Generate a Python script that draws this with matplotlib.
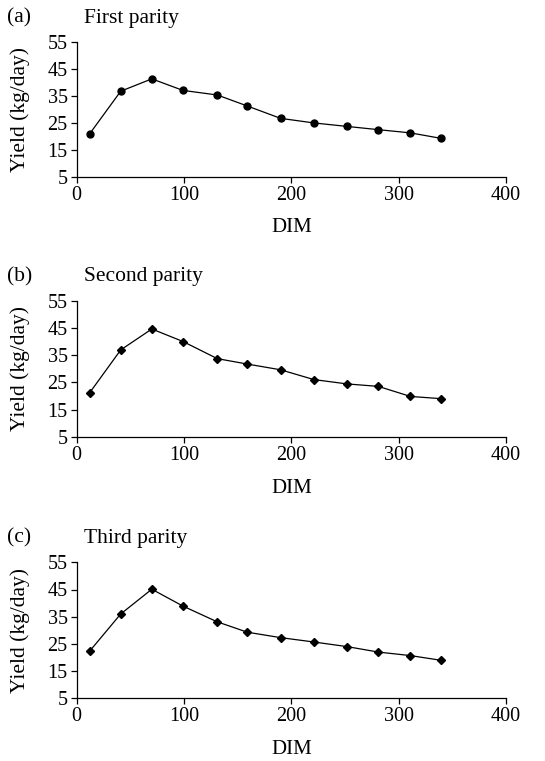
import matplotlib
matplotlib.use("Agg")
import matplotlib.pyplot as plt

plt.rcParams['font.family'] = ['Liberation Serif', 'DejaVu Serif']

dim = [12, 41, 70, 99, 131, 159, 190, 221, 252, 281, 311, 339]
yield_first = [20.9, 36.8, 41.4, 37.1, 35.4, 31.3, 26.7, 25.0, 23.7, 22.5, 21.3, 19.3]
yield_second = [21.1, 36.9, 44.6, 40.0, 33.7, 31.7, 29.6, 26.0, 24.4, 23.5, 19.8, 19.0]
yield_third = [22.3, 36.0, 45.1, 38.9, 33.1, 29.3, 27.3, 25.7, 24.0, 22.0, 20.7, 19.0]

panels = [("(a)", "First parity", yield_first, "o", 5.0),
          ("(b)", "Second parity", yield_second, "D", 4.3),
          ("(c)", "Third parity", yield_third, "D", 4.3)]

W, H = 545.0, 761.0
fig = plt.figure(figsize=(W / 100, H / 100), dpi=100)

# axes boxes in pixels: (left, top, right, bottom)
boxes = [(76.7, 42.3, 506, 176.7),
         (76.7, 300.7, 506, 436.7),
         (76.7, 562.3, 506, 698.3)]

for (tag, name, vals, mk, ms), (l, t, r, b) in zip(panels, boxes):
    ax = fig.add_axes([l / W, 1 - b / H, (r - l) / W, (b - t) / H])
    ax.plot(dim, vals, color='black', lw=0.9, marker=mk, ms=ms,
            markerfacecolor='black', markeredgecolor='black')
    ax.set_xlim(0, 400)
    ax.set_ylim(5, 55)
    ax.set_xticks(range(0, 401, 100))
    ax.set_yticks(range(5, 56, 10))
    ax.spines['top'].set_visible(False)
    ax.spines['right'].set_visible(False)
    ax.spines['left'].set_linewidth(0.9)
    ax.spines['bottom'].set_linewidth(0.9)
    ax.tick_params(direction='out', length=4, width=0.9, labelsize=14.5, pad=2.5)
    ax.set_xlabel("DIM", fontsize=15, va='center')
    ax.set_ylabel("Yield (kg/day)", fontsize=15.5, va='center')
    # label centres: DIM ~51 px below the axis, y label at x ~20 px
    ax.xaxis.set_label_coords(0.5, -51.3 / (b - t))
    ax.yaxis.set_label_coords((20 - l) / (r - l), 0.5)
    fig.text(7 / W, 1 - (t - 19.5) / H, tag, fontsize=15.5, ha='left', va='baseline')
    fig.text(84 / W, 1 - (t - 19.5) / H, name, fontsize=15.5, ha='left', va='baseline')

fig.savefig("out.png", dpi=100)
